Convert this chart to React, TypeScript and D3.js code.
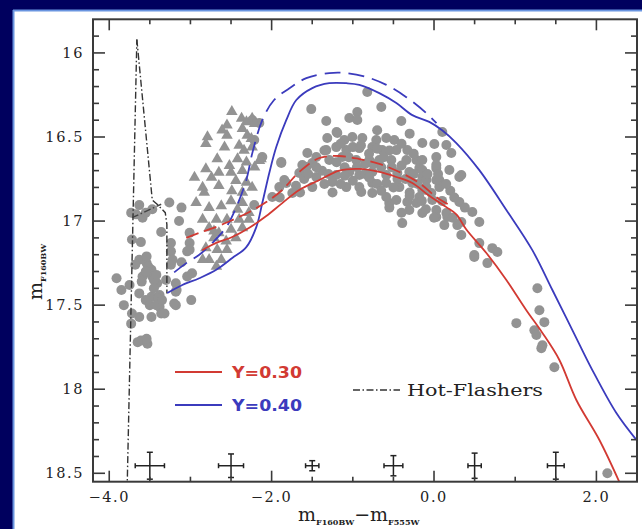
import React from 'react';
import * as d3 from 'd3';

const W = 642;
const H = 529;
const X_DOMAIN: [number, number] = [-4.2, 2.5];
const Y_DOMAIN: [number, number] = [15.8, 18.55];
const xTickLabels = [-4, -2, 0, 2];
const yTickLabels = [16, 16.5, 17, 17.5, 18, 18.5];

type P = [number, number];

// Model tracks (colour, m_F160BW)
const blueSolid: P[] = [
  [-3.285, 17.428], [-3.1, 17.38], [-2.891, 17.34], [-2.682, 17.29], [-2.485, 17.22], [-2.312, 17.155],
  [-2.189, 17.036], [-2.115, 16.893], [-2.029, 16.714], [-1.943, 16.56], [-1.82, 16.4], [-1.696, 16.28],
  [-1.499, 16.209], [-1.29, 16.18], [-1.08, 16.18], [-0.92, 16.19], [-0.674, 16.239], [-0.464, 16.298],
  [-0.267, 16.37], [-0.058, 16.41], [0.1, 16.46], [0.275, 16.536], [0.558, 16.697], [0.891, 16.934],
  [1.211, 17.173], [1.458, 17.41], [1.704, 17.648], [1.95, 17.886], [2.246, 18.142], [2.49, 18.3],
];
const blueDashed: P[] = [
  [-3.2, 17.305], [-3.051, 17.25], [-2.891, 17.2], [-2.731, 17.13], [-2.559, 17.036], [-2.435, 16.917],
  [-2.312, 16.756], [-2.238, 16.596], [-2.115, 16.4], [-1.97, 16.28], [-1.78, 16.21], [-1.573, 16.15],
  [-1.29, 16.12], [-1.08, 16.12], [-0.834, 16.143], [-0.587, 16.19], [-0.341, 16.263], [-0.095, 16.358],
  [0.03, 16.418],
];
const redSolid: P[] = [
  [-2.854, 17.173], [-2.682, 17.13], [-2.485, 17.095], [-2.275, 17.04], [-2.066, 16.97], [-1.869, 16.893],
  [-1.66, 16.815], [-1.413, 16.756], [-1.167, 16.7], [-0.92, 16.69], [-0.674, 16.708], [-0.464, 16.738],
  [-0.267, 16.774], [-0.058, 16.85], [0.152, 16.917], [0.275, 16.96], [0.398, 17.05], [0.645, 17.19],
  [0.891, 17.35], [1.137, 17.53], [1.335, 17.665], [1.544, 17.826], [1.753, 18.064], [2.037, 18.302],
  [2.283, 18.552],
];
const redDashed: P[] = [
  [-3.051, 17.1], [-2.891, 17.07], [-2.682, 17.035], [-2.485, 16.994], [-2.275, 16.946], [-2.066, 16.887],
  [-1.869, 16.815], [-1.66, 16.708], [-1.413, 16.625], [-1.167, 16.613], [-0.92, 16.631], [-0.674, 16.66],
  [-0.427, 16.708], [-0.18, 16.774], [0.028, 16.857], [0.19, 16.905],
];
const hotFlasherA: P[] = [[-3.78, 18.6], [-3.66, 15.92]];
const hotFlasherB: P[] = [
  [-3.66, 15.92], [-3.47, 16.875], [-3.41, 16.9], [-3.31, 16.95], [-3.29, 17.02], [-3.29, 17.43],
];
const hotFlasherC: P[] = [[-3.72, 16.98], [-3.36, 16.9]];

// Observed stars
const hbCircles: P[] = [
  [-3.63, 16.905], [-3.73, 16.95], [-3.59, 16.98], [-3.26, 16.89], [-3.11, 16.92], [-3.36, 17.065],
  [-3.61, 17.125], [-3.72, 17.11], [-3.24, 17.18], [-3.01, 17.13], [-3.04, 17.18], [-3.11, 17.245],
  [-3.24, 17.26], [-3.63, 17.23], [-3.54, 17.25], [-3.48, 17.29], [-3.47, 17.33], [-3.41, 17.37],
  [-3.91, 17.34], [-3.75, 17.38], [-3.85, 17.41], [-3.63, 17.43], [-3.48, 17.45], [-3.38, 17.44],
  [-3.18, 17.42], [-3.04, 17.33], [-2.99, 17.47], [-3.18, 17.5], [-3.82, 17.5], [-3.72, 17.55],
  [-3.63, 17.57], [-3.48, 17.57], [-3.38, 17.51], [-3.36, 17.55], [-3.73, 17.61], [-3.61, 17.71],
  [-3.53, 17.73], [-3.18, 17.37], [-3.22, 17.23], [-3.3, 17.35], [-3.59, 17.33], [-3.54, 17.21],
  [-3.52, 17.27], [-3.5, 17.31], [-3.45, 17.35], [-3.42, 17.32], [-3.55, 17.3], [-3.6, 17.36],
  [-3.45, 17.4], [-3.4, 17.46], [-3.55, 17.47], [-3.5, 17.5], [-3.42, 17.5], [-3.35, 17.47],
  [-3.68, 17.26], [-3.67, 16.96], [-3.55, 16.95], [-3.47, 16.93], [-3.14, 17.0], [-3.01, 17.07],
  [-3.01, 17.17], [-3.24, 17.13], [-2.98, 17.31], [-3.17, 17.41], [-3.2, 17.49], [-3.32, 17.55],
  [-3.54, 17.7], [-3.65, 17.72],
];
const rgbCircles: P[] = [
  [-0.822, 16.232], [-1.512, 16.334], [-1.327, 16.405], [-1.043, 16.387], [-0.945, 16.351], [-0.945, 16.399],
  [-0.649, 16.322], [-0.403, 16.405], [-0.144, 16.536], [0.004, 16.542], [0.152, 16.548], [0.102, 16.47],
  [0.213, 16.595], [0.336, 16.726], [0.472, 16.946], [0.312, 16.887], [0.164, 16.976], [0.336, 17.006],
  [0.336, 17.083], [0.028, 16.934], [-0.144, 16.952], [-0.329, 16.887], [-0.551, 16.893], [-0.391, 17.012],
  [0.496, 17.202], [-1.881, 16.655], [-1.573, 16.679],
  [-1.315, 16.506], [-1.191, 16.476], [-1.105, 16.518], [-1.006, 16.5], [-0.883, 16.506], [-0.711, 16.518],
  [-0.588, 16.506], [-0.489, 16.518], [-1.327, 16.578], [-1.204, 16.56], [-1.08, 16.578], [-0.92, 16.566],
  [-0.76, 16.56], [-0.637, 16.578], [-0.464, 16.578], [-0.329, 16.578], [-1.45, 16.619], [-1.29, 16.637],
  [-1.13, 16.619], [-0.957, 16.637], [-0.797, 16.637], [-0.674, 16.637], [-0.526, 16.637], [-0.341, 16.637],
  [-0.218, 16.637], [-0.181, 16.685], [-1.622, 16.667], [-1.499, 16.655], [-1.204, 16.726], [-1.043, 16.708],
  [-0.92, 16.726], [-0.76, 16.708], [-0.588, 16.726], [-0.452, 16.714], [-0.304, 16.708], [-0.144, 16.738],
  [0.028, 16.685], [-1.253, 16.768], [-1.08, 16.798], [-0.92, 16.798], [-0.76, 16.774], [-0.588, 16.774],
  [-0.427, 16.798], [-0.267, 16.774], [-0.095, 16.798], [-1.819, 16.774], [-1.659, 16.714], [-1.45, 16.738],
  [-0.588, 16.857], [-0.464, 16.875], [-0.181, 16.857], [-0.033, 16.833], [0.065, 16.798], [-0.76, 16.833],
  [-0.896, 16.827], [-1.499, 16.798], [-1.745, 16.833], [-1.905, 16.798],
  [-2.238, 16.399], [-2.152, 16.417], [-2.214, 16.518], [-2.115, 16.619], [-1.881, 16.649], [-1.844, 16.756],
  [-1.992, 16.857], [-2.214, 16.905], [-1.56, 16.595], [-0.144, 16.696], [0.028, 16.619], [0.065, 16.756],
  [-0.095, 16.815], [-0.218, 16.893], [-0.304, 16.934], [0.152, 16.952],
  [0.312, 16.738], [0.189, 16.696], [0.028, 16.667], [-0.144, 16.637], [-0.095, 16.756], [0.028, 16.756],
  [-0.144, 16.815], [-0.021, 16.875], [0.028, 16.976], [0.127, 17.024], [0.287, 17.024], [0.558, 17.006],
  [0.558, 17.131], [0.718, 17.161], [0.78, 17.184], [0.496, 17.214], [0.657, 17.25], [1.273, 17.399],
  [1.298, 17.53], [1.359, 17.601], [1.014, 17.607], [1.236, 17.649], [1.261, 17.678], [1.335, 17.738],
  [1.322, 17.756], [1.482, 17.869], [2.135, 18.5],
  [-1.38, 16.7], [-1.1, 16.68], [-0.85, 16.66], [-0.65, 16.68], [-0.4, 16.67], [-0.25, 16.72],
  [-1.0, 16.76], [-0.7, 16.78], [-0.5, 16.8], [-0.3, 16.83], [-1.35, 16.58], [-0.8, 16.6],
  [-0.55, 16.58], [-1.6, 16.75], [-1.7, 16.79], [-1.25, 16.83], [-1.1, 16.73], [-0.15, 16.88],
  [0.1, 16.88], [0.2, 16.82], [-0.4, 16.95], [-1.0, 16.56], [-0.7, 16.57], [-0.25, 16.6],
  [-1.55, 16.72], [-1.45, 16.68], [-1.3, 16.72], [-1.2, 16.65], [-1.05, 16.62], [-0.95, 16.68],
  [-0.85, 16.72], [-0.75, 16.66], [-0.62, 16.62], [-0.52, 16.68], [-0.45, 16.75], [-0.35, 16.75],
  [-0.2, 16.78], [-0.08, 16.72], [0.05, 16.72], [0.15, 16.78], [0.25, 16.86], [0.38, 16.92],
  [-0.65, 16.82], [-0.8, 16.74], [-1.15, 16.78], [-1.35, 16.78], [-1.65, 16.83], [-1.9, 16.86],
  [-0.9, 16.55], [-1.15, 16.54], [-0.4, 16.54], [-0.3, 16.85], [-0.55, 16.92], [-0.1, 16.93],
  [0.0, 16.98], [0.23, 16.98], [-1.2, 16.47], [-0.7, 16.46], [-0.3, 16.48],
];
const triangles: P[] = [
  [-2.49, 16.35], [-2.37, 16.39], [-2.24, 16.39], [-2.31, 16.41], [-2.55, 16.43], [-2.21, 16.42],
  [-2.61, 16.46], [-2.36, 16.45], [-2.3, 16.49], [-2.79, 16.5], [-2.55, 16.49], [-2.81, 16.54],
  [-2.58, 16.56], [-2.4, 16.55], [-2.25, 16.51], [-2.34, 16.58], [-2.24, 16.56], [-2.15, 16.64],
  [-2.31, 16.65], [-2.42, 16.63], [-2.67, 16.63], [-2.52, 16.67], [-2.81, 16.69], [-2.65, 16.71],
  [-2.5, 16.71], [-2.36, 16.7], [-2.21, 16.68], [-2.95, 16.74], [-2.74, 16.74], [-2.44, 16.76],
  [-2.31, 16.77], [-2.85, 16.8], [-2.65, 16.79], [-2.49, 16.82], [-2.36, 16.83], [-2.24, 16.8],
  [-2.93, 16.89], [-2.77, 16.92], [-2.62, 16.91], [-2.83, 16.83], [-2.5, 16.88], [-2.36, 16.89],
  [-2.42, 16.93], [-2.28, 16.95], [-2.85, 16.99], [-2.68, 16.99], [-2.55, 16.99], [-2.4, 16.99],
  [-2.28, 16.99], [-2.77, 17.04], [-2.65, 17.07], [-2.5, 17.05], [-2.36, 17.04], [-2.71, 17.1],
  [-2.56, 17.12], [-2.44, 17.1], [-2.81, 17.16], [-2.67, 17.17], [-2.55, 17.17], [-2.77, 17.23],
  [-2.68, 17.27], [-2.62, 17.23], [-2.85, 17.23], [-2.13, 16.63], [-2.71, 17.06],
];

// Error bars at the bottom
const errX = [-3.5, -2.5, -1.5, -0.5, 0.5, 1.5];
const errXHalf = [0.18, 0.154, 0.082, 0.116, 0.082, 0.103];
const errYHalf = [0.08, 0.07, 0.03, 0.06, 0.075, 0.08];
const errYCenter = 18.455;

const BLUE = '#3b3bbd';
const RED = '#d23a33';
const GRAY = '#939393';
const AXIS = '#3a3a3a';
const SERIF = '"DejaVu Serif", "Liberation Serif", serif';

export default function App() {
  const left = 93, right = 637, top = 19.3, bottom = 481.7;
  const x = d3.scaleLinear().domain(X_DOMAIN).range([left, right]);
  const y = d3.scaleLinear().domain(Y_DOMAIN).range([top, bottom]);
  const line = d3.line<P>().x(d => x(d[0])).y(d => y(d[1])).curve(d3.curveCatmullRom.alpha(0.5));
  const straight = d3.line<P>().x(d => x(d[0])).y(d => y(d[1]));
  const tri = d3.symbol().type(d3.symbolTriangle).size(58)() as string;

  const xMinor = d3.range(-8, 6).map(v => v / 2).filter(v => v > X_DOMAIN[0] && v < X_DOMAIN[1]);
  const yMinor = d3.range(158, 186).map(v => v / 10).filter(v => v > Y_DOMAIN[0] && v < Y_DOMAIN[1]);
  const major = 11, minor = 5;

  return (
    <svg width={W} height={H} style={{ position: 'absolute', left: 0, top: 0, display: 'block' }}>
      <defs>
        <clipPath id="plotclip">
          <rect x={left} y={top} width={right - left} height={bottom - top} />
        </clipPath>
      </defs>
      <rect x={0} y={0} width={W} height={H} fill="#00005e" />
      <rect x={13} y={10} width={W - 13} height={H - 10} fill="#ffffff" />
      <line x1={13} y1={10.5} x2={W} y2={10.5} stroke="#6a95e0" strokeWidth={2} />
      <line x1={13.5} y1={10} x2={13.5} y2={H} stroke="#6a95e0" strokeWidth={2} />

      <g clipPath="url(#plotclip)">
        {hbCircles.concat(rgbCircles).map((d, i) => (
          <circle key={'c' + i} cx={x(d[0])} cy={y(d[1])} r={5} fill={GRAY} />
        ))}
        {triangles.map((d, i) => (
          <path key={'t' + i} d={tri} transform={`translate(${x(d[0])},${y(d[1])})`} fill={GRAY} />
        ))}
        <path d={straight(hotFlasherA) || ''} fill="none" stroke="#333" strokeWidth={1.4} strokeDasharray="7,2.5,1.5,2.5" />
        <path d={straight(hotFlasherB) || ''} fill="none" stroke="#333" strokeWidth={1.4} strokeDasharray="7,2.5,1.5,2.5" />
        <path d={straight(hotFlasherC) || ''} fill="none" stroke="#444" strokeWidth={1.4} strokeDasharray="7,2.5,1.5,2.5" />
        <path d={line(blueDashed) || ''} fill="none" stroke={BLUE} strokeWidth={1.8} strokeDasharray="16,8" />
        <path d={line(blueSolid) || ''} fill="none" stroke={BLUE} strokeWidth={1.8} />
        <path d={line(redDashed) || ''} fill="none" stroke={RED} strokeWidth={1.8} strokeDasharray="13,6" />
        <path d={line(redSolid) || ''} fill="none" stroke={RED} strokeWidth={1.8} />
      </g>

      {/* error bars */}
      {errX.map((ex, i) => {
        const cx = x(ex), cy = y(errYCenter);
        const x0 = x(ex - errXHalf[i]), x1 = x(ex + errXHalf[i]);
        const y0 = y(errYCenter - errYHalf[i]), y1 = y(errYCenter + errYHalf[i]);
        return (
          <g key={'e' + i} stroke="#222" strokeWidth={1.5}>
            <line x1={x0} y1={cy} x2={x1} y2={cy} />
            <line x1={cx} y1={y0} x2={cx} y2={y1} />
            <line x1={x0} y1={cy - 2.5} x2={x0} y2={cy + 2.5} />
            <line x1={x1} y1={cy - 2.5} x2={x1} y2={cy + 2.5} />
            <line x1={cx - 3} y1={y0} x2={cx + 3} y2={y0} />
            <line x1={cx - 3} y1={y1} x2={cx + 3} y2={y1} />
          </g>
        );
      })}

      {/* frame */}
      <rect x={left} y={top} width={right - left} height={bottom - top} fill="none" stroke={AXIS} strokeWidth={2} />
      {xMinor.map(v => {
        const len = xTickLabels.includes(v) ? major : minor;
        return (
          <g key={'xt' + v} stroke={AXIS} strokeWidth={1.6}>
            <line x1={x(v)} y1={bottom} x2={x(v)} y2={bottom - len} />
            <line x1={x(v)} y1={top} x2={x(v)} y2={top + len} />
          </g>
        );
      })}
      {yMinor.map(v => {
        const isMajor = yTickLabels.some(t => Math.abs(t - v) < 1e-6);
        const len = isMajor ? major + 1 : minor + 1;
        return (
          <g key={'yt' + v} stroke={AXIS} strokeWidth={1.6}>
            <line x1={left} y1={y(v)} x2={left + len} y2={y(v)} />
            <line x1={right} y1={y(v)} x2={right - len} y2={y(v)} />
          </g>
        );
      })}

      {xTickLabels.map(v => (
        <text key={'xl' + v} x={x(v)} y={502} textAnchor="middle" fontFamily={SERIF} fontSize={14.5}
          letterSpacing={1.6} fill="#222">{(v < 0 ? '\u2212' : '') + Math.abs(v).toFixed(1)}</text>
      ))}
      {yTickLabels.map(v => (
        <text key={'yl' + v} x={84} y={y(v) + 5} textAnchor="end" fontFamily={SERIF} fontSize={14.5}
          letterSpacing={1.6} fill="#222">{String(v)}</text>
      ))}

      {/* axis titles */}
      <text x={298} y={521} fontFamily={SERIF} fill="#222">
        <tspan fontSize={19}>m</tspan>
        <tspan fontSize={8} fontWeight="bold" dy={4}>F160BW</tspan>
        <tspan fontSize={19} dy={-4}>{'\u2212'}m</tspan>
        <tspan fontSize={8} fontWeight="bold" dy={4}>F555W</tspan>
      </text>
      <text transform="translate(42,300) rotate(-90)" fontFamily={SERIF} fill="#222">
        <tspan fontSize={19}>m</tspan>
        <tspan fontSize={8} fontWeight="bold" dy={4}>F160BW</tspan>
      </text>

      {/* legend */}
      <line x1={175} y1={372} x2={222} y2={372} stroke={RED} strokeWidth={1.8} />
      <text x={232} y={378} fontFamily='"DejaVu Sans", sans-serif' fontWeight="bold" fontSize={16}
        fill={RED} textLength={70} lengthAdjust="spacingAndGlyphs">Y=0.30</text>
      <line x1={175} y1={405} x2={222} y2={405} stroke={BLUE} strokeWidth={1.8} />
      <text x={232} y={411} fontFamily='"DejaVu Sans", sans-serif' fontWeight="bold" fontSize={16}
        fill={BLUE} textLength={70} lengthAdjust="spacingAndGlyphs">Y=0.40</text>
      <line x1={353} y1={390} x2={400} y2={390} stroke="#333" strokeWidth={1.4} strokeDasharray="7,2.5,1.5,2.5" />
      <text x={407} y={396} fontFamily={SERIF} fontSize={17} fill="#222"
        textLength={136} lengthAdjust="spacingAndGlyphs">Hot-Flashers</text>
    </svg>
  );
}
